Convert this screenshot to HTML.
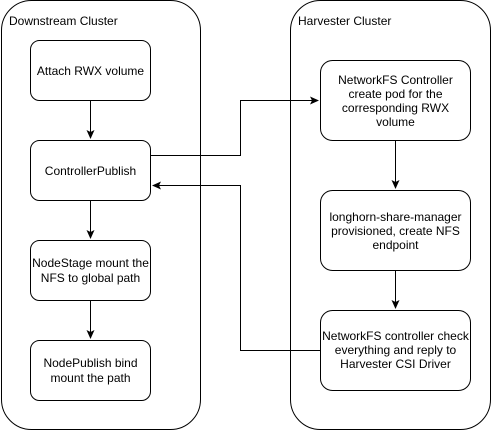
<!DOCTYPE html>
<html><head><meta charset="utf-8"><style>
html,body{margin:0;padding:0;background:#fff;}
svg{display:block;}
text{font-family:"Liberation Sans",Arial,sans-serif;font-size:12px;fill:#000;}
</style></head><body>
<svg width="491" height="431" viewBox="0 0 491 431" xmlns="http://www.w3.org/2000/svg">
<defs>
<marker id="a" markerWidth="10" markerHeight="10" refX="8" refY="4" orient="auto" markerUnits="userSpaceOnUse">
<path d="M0,0 L9,4 L0,8 L2,4 Z" fill="#000"/>
</marker>
</defs>
<g fill="none" stroke="#000" stroke-width="1">
<rect x="1.5" y="0.5" width="199" height="429" rx="30" ry="30"/>
<rect x="290.5" y="0.5" width="200" height="429" rx="30" ry="30"/>
<rect x="30.5" y="40.5" width="120" height="60" rx="9"/>
<rect x="30.5" y="140.5" width="120" height="60" rx="9"/>
<rect x="30.5" y="240.5" width="120" height="60" rx="9"/>
<rect x="30.5" y="340.5" width="120" height="60" rx="9"/>
<rect x="320.5" y="60.5" width="150" height="80" rx="12"/>
<rect x="320.5" y="190.5" width="150" height="80" rx="12"/>
<rect x="320.5" y="310.5" width="150" height="80" rx="12"/>
<path d="M90.5 100.5 V138" marker-end="url(#a)"/>
<path d="M90.5 200.5 V238" marker-end="url(#a)"/>
<path d="M90.5 300.5 V338" marker-end="url(#a)"/>
<path d="M395.5 140.5 V188" marker-end="url(#a)"/>
<path d="M395.5 270.5 V308" marker-end="url(#a)"/>
<path d="M150.5 155.5 H240.5 V100.5 H318" marker-end="url(#a)"/>
<path d="M320.5 350.5 H240.5 V185.5 H153" marker-end="url(#a)"/>
</g>
<text x="9" y="25">Downstream Cluster</text>
<text x="298" y="25">Harvester Cluster</text>
<g text-anchor="middle">
<text x="90.5" y="75">Attach RWX volume</text>
<text x="90.5" y="175">ControllerPublish</text>
<text x="90.5" y="267">NodeStage mount the</text>
<text x="90.5" y="282">NFS to global path</text>
<text x="90.5" y="367">NodePublish bind</text>
<text x="90.5" y="382">mount the path</text>
<text x="395.5" y="84">NetworkFS Controller</text>
<text x="395.5" y="98">create pod for the</text>
<text x="395.5" y="112">corresponding RWX</text>
<text x="395.5" y="126">volume</text>
<text x="395.5" y="221">longhorn-share-manager</text>
<text x="395.5" y="235">provisioned, create NFS</text>
<text x="395.5" y="249">endpoint</text>
<text x="395.5" y="340">NetworkFS controller check</text>
<text x="395.5" y="354">everything and reply to</text>
<text x="395.5" y="368">Harvester CSI Driver</text>
</g>
</svg>
</body></html>
